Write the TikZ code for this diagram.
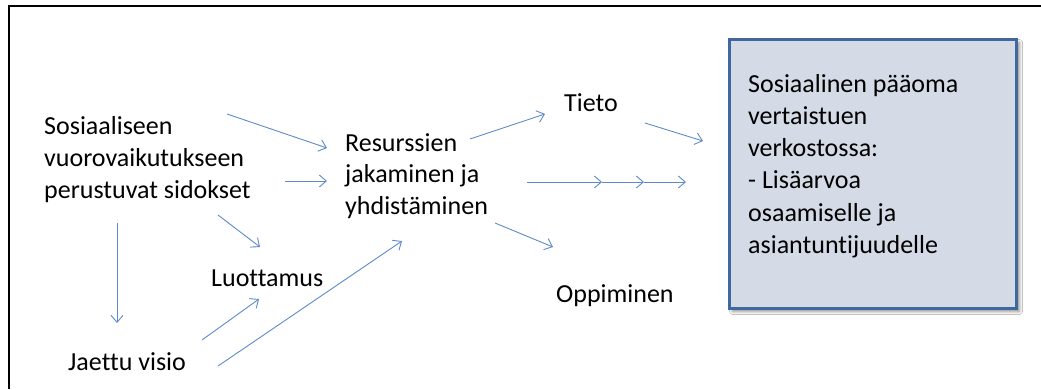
\documentclass[tikz,border=0pt]{standalone}
\usepackage{fontspec}
\setmainfont{Carlito}[Ligatures=NoCommon]
\usetikzlibrary{arrows.meta,shadows.blur}
\definecolor{arrowblue}{RGB}{95,138,200}
\definecolor{boxfill}{RGB}{212,219,230}
\definecolor{boxedge}{RGB}{65,104,156}
\tikzset{
  lbl/.style={inner sep=0pt, anchor=west, align=left,
    font=\fontsize{26}{31.6}\selectfont},
  flow/.style={draw=arrowblue, line width=0.9pt,
    -{Straight Barb[length=7pt,width=12pt,line width=0.9pt]}},
  frame/.style={draw=black, line width=2.2pt},
  capital/.style={draw=boxedge, fill=boxfill, line width=3pt,
    blur shadow={shadow xshift=3pt, shadow yshift=-3pt, shadow blur radius=3pt, shadow opacity=45}}
}
\begin{document}
\begin{tikzpicture}[x=1pt,y=-1pt]
\useasboundingbox (0,0) rectangle (1041,389);
\fill[white] (0,0) rectangle (1041,389);

% outer frame (open to the right and bottom)
\draw[frame] (9,389) -- (9,6) -- (1041,6);

% result box
\node[capital, minimum width=287pt, minimum height=269pt, anchor=north west,
      inner sep=0pt] (sp) at (728,38) {};
\node[lbl, font=\fontsize{26}{32.2}\selectfont, anchor=north west] (sptext) at (748,74)
  {Sosiaalinen pääoma\\vertaistuen\\verkostossa:\\- Lisäarvoa\\osaamiselle ja\\asiantuntijuudelle};

% concept labels
\node[lbl] (sos)   at (44,159.5) {Sosiaaliseen\\vuorovaikutukseen\\perustuvat sidokset};
\node[lbl] (res)   at (345,176) {Resurssien\\jakaminen ja\\yhdistäminen};
\node[lbl] (tieto) at (564,103) {Tieto};
\node[lbl] (luott) at (211,278) {Luottamus};
\node[lbl] (oppi)  at (556,296) {Oppiminen};
\node[lbl] (visio) at (68,362) {Jaettu visio};

% arrow end points
\coordinate (sosA)  at (227,114);  \coordinate (resA)  at (327,148);
\coordinate (sosB)  at (285,181);  \coordinate (resB)  at (327,181);
\coordinate (sosC)  at (218,215);  \coordinate (luoA)  at (260,247);
\coordinate (sosD)  at (117,223);  \coordinate (visA)  at (117,323);
\coordinate (visB)  at (202,340);  \coordinate (luoB)  at (259,299);
\coordinate (visC)  at (218,366);  \coordinate (resC)  at (402,241);
\coordinate (resD)  at (470,139);  \coordinate (tieA)  at (545,114);
\coordinate (tieB)  at (645,123);  \coordinate (spA)   at (703,141);
\coordinate (resE)  at (527,182);  \coordinate (midA)  at (602,182);
\coordinate (midB)  at (644,182);  \coordinate (spB)   at (686,182);
\coordinate (resF)  at (495,223);  \coordinate (oppA)  at (553,247);

% connectors
\draw[flow] (sosA) -- (resA);
\draw[flow] (sosB) -- (resB);
\draw[flow] (sosC) -- (luoA);
\draw[flow] (sosD) -- (visA);
\draw[flow] (visB) -- (luoB);
\draw[flow] (visC) -- (resC);
\draw[flow] (resD) -- (tieA);
\draw[flow] (tieB) -- (spA);
\draw[flow] (resE) -- (midA);
\draw[flow] (midA) -- (midB);
\draw[flow] (midB) -- (spB);
\draw[flow] (resF) -- (oppA);
\end{tikzpicture}
\end{document}
